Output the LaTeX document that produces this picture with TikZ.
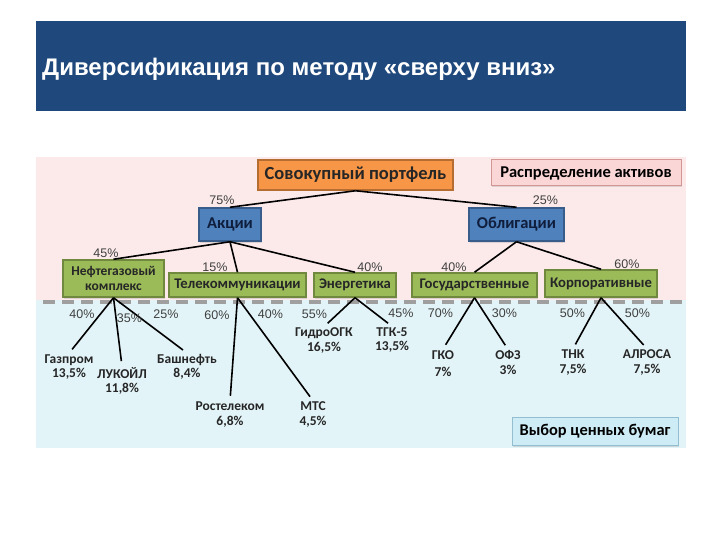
\documentclass[tikz,border=0pt]{standalone}
\usepackage{fontspec}
\setmainfont{Liberation Sans}
\newfontfamily\boxfont{Carlito}
\usepackage{xcolor}
\usepackage{tikz}
\usetikzlibrary{shadows}
\definecolor{titlecolor}{RGB}{31,73,125}
\definecolor{pinkback}{RGB}{252,234,234}
\definecolor{blueback}{RGB}{227,244,248}
\definecolor{orangecolor}{RGB}{247,150,70}
\definecolor{orangeborder}{RGB}{182,109,49}
\definecolor{bluecolor}{RGB}{79,129,189}
\definecolor{blueborder}{RGB}{56,93,138}
\definecolor{navytext}{RGB}{15,30,60}
\definecolor{greencolor}{RGB}{155,187,89}
\definecolor{greenborder}{RGB}{113,137,63}
\definecolor{rosecolor}{RGB}{250,214,214}
\definecolor{roseborder}{RGB}{210,150,148}
\definecolor{cyancolor}{RGB}{205,236,245}
\definecolor{cyanborder}{RGB}{147,190,208}

\tikzset{
    box/.style={draw, line width=1.5pt, inner sep=0pt, align=center,
        font=\boxfont\bfseries,
        drop shadow={opacity=0.25, shadow xshift=1pt, shadow yshift=-1.5pt}},
    portbox/.style={box, fill=orangecolor, draw=orangeborder, text=black!85,
        font=\boxfont\bfseries\fontsize{18.5}{20}\selectfont},
    rosebox/.style={box, fill=rosecolor, draw=roseborder, line width=1pt, text=black,
        font=\boxfont\bfseries\fontsize{16.5}{18}\selectfont},
    assetbox/.style={box, fill=bluecolor, draw=blueborder, text=navytext,
        font=\boxfont\bfseries\fontsize{16.5}{18}\selectfont},
    sectorbox/.style={box, fill=greencolor, draw=greenborder, text=black!85,
        font=\boxfont\bfseries\fontsize{14.7}{15}\selectfont},
    choicebox/.style={box, fill=cyancolor, draw=cyanborder, line width=1pt, text=black,
        font=\boxfont\bfseries\fontsize{16.4}{18}\selectfont},
    leaf/.style={align=center, inner sep=1pt, text=black!85,
        font=\boxfont\bfseries\fontsize{13.5}{14.5}\selectfont},
    pct/.style={inner sep=0pt, text=black!75, font=\fontsize{12.5}{14}\selectfont},
    link/.style={line width=1.6pt, black}
}

\begin{document}
\begin{tikzpicture}[x=1pt, y=-1pt]
    \useasboundingbox (0,0) rectangle (720,540);

    % Title bar
    \fill[titlecolor] (36,21) rectangle (686,111);
    \node[anchor=base west, inner sep=0pt, text=white,
        font=\bfseries\fontsize{24}{28}\selectfont] (title) at (42,76)
        {Диверсификация по методу «сверху вниз»};

    % Background bands
    \fill[pinkback] (36,157) rectangle (686,300);
    \fill[blueback] (36,300) rectangle (686,448);
    \draw[gray!75, line width=4.5pt, dash pattern=on 12pt off 7pt] (43,302) -- (686,302);

    % Boxes
    \node[portbox, minimum width=195pt, minimum height=30pt] (portf) at (355.5,175) {Совокупный портфель};
    \node[rosebox, minimum width=190pt, minimum height=26pt] (distr) at (586,173) {Распределение активов};
    \node[assetbox, minimum width=62pt, minimum height=33pt] (akcii) at (230,224.5) {Акции};
    \node[assetbox, minimum width=95pt, minimum height=33pt] (oblig) at (516.5,224.5) {Облигации};
    \node[sectorbox, minimum width=101pt, minimum height=37pt,
        font=\boxfont\bfseries\fontsize{13.5}{15}\selectfont] (neft) at (113.5,278.5) {Нефтегазовый\\комплекс};
    \node[sectorbox, minimum width=137pt, minimum height=24pt] (telecom) at (237.5,285) {Телекоммуникации};
    \node[sectorbox, minimum width=82pt, minimum height=24pt] (energy) at (355,285) {Энергетика};
    \node[sectorbox, minimum width=125pt, minimum height=24pt] (gov) at (474.5,285) {Государственные};
    \node[sectorbox, minimum width=112pt, minimum height=27pt] (corp) at (601,283.5) {Корпоративные};
    \node[choicebox, minimum width=166pt, minimum height=28pt] (choice) at (595,431) {Выбор ценных бумаг};

    % Securities
    \node[leaf] (gazprom) at (69,367) {Газпром\\13,5\%};
    \node[leaf] (lukoil) at (122,381) {ЛУКОЙЛ\\11,8\%};
    \node[leaf] (bashneft) at (187,367) {Башнефть\\8,4\%};
    \node[leaf] (rostelecom) at (230,414.5) {Ростелеком\\6,8\%};
    \node[leaf] (mts) at (313,414.5) {МТС\\4,5\%};
    \node[leaf] (gidro) at (324,340.5) {ГидроОГК\\16,5\%};
    \node[leaf] (tgk) at (392,340) {ТГК-5\\13,5\%};
    \node[leaf] (gko) at (443,363.5) {ГКО\\[3pt]7\%};
    \node[leaf] (ofz) at (508,362.5) {ОФЗ\\3\%};
    \node[leaf] (tnk) at (573,362.5) {ТНК\\7,5\%};
    \node[leaf] (alrosa) at (647,362.5) {АЛРОСА\\7,5\%};

    % Links
    \foreach \a/\b in {portf/akcii, portf/oblig, akcii/neft, akcii/telecom,
                       akcii/energy, oblig/gov, oblig/corp}
        \draw[link] (\a.south) -- (\b.north);
    \foreach \a/\b in {neft/gazprom, neft/lukoil, neft/bashneft, telecom/rostelecom,
                       telecom/mts, energy/gidro, energy/tgk, gov/gko, gov/ofz,
                       corp/tnk, corp/alrosa}
        \draw[link, shorten >=5pt] (\a.south) -- (\b.north);

    % Shares
    \foreach \x/\y/\t [count=\i] in {222/200/75, 545.5/200/25, 106/253/45, 215/267/15,
            370/267/40, 454/267/40, 627/264/60, 82/314/40, 129.5/318/35, 166/314/25,
            217/315/60, 270.5/314/40, 314.5/314/55, 401/313/45, 440.5/313/70,
            504.5/313/30, 572.5/313/50, 637.5/313/50}
        \node[pct] (share\i) at (\x,\y) {\t\%};
\end{tikzpicture}
\end{document}
